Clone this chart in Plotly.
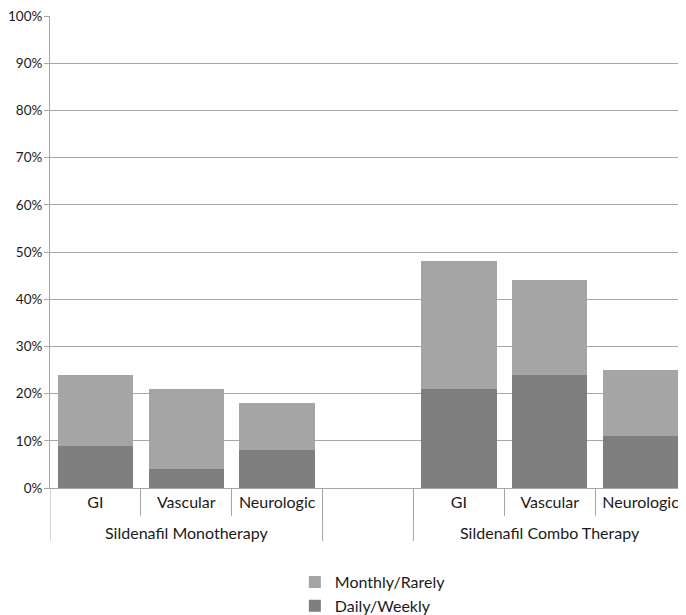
import plotly.graph_objects as go

# group / category labels
groups = ["Sildenafil Monotherapy", "Sildenafil Combo Therapy"]
group_centres = [1, 5]
categories = ["GI", "Vascular", "Neurologic", "", "GI", "Vascular", "Neurologic"]

# percent of patients
daily_weekly = [9, 4, 8, None, 21, 24, 11]
totals = [24, 21, 18, None, 48, 44, 25]
monthly_rarely = [t - d if t is not None else None for t, d in zip(totals, daily_weekly)]

y_ticks = list(range(0, 101, 10))
y_labels = [f"{v}%" for v in y_ticks]

font = "Lato, 'Open Sans', sans-serif"
line_grey = "#a6a6a6"
text_col = "#1a1a1a"
pos = list(range(len(categories)))

fig = go.Figure()
fig.add_trace(go.Bar(x=pos, y=daily_weekly, name="Daily/Weekly",
                     marker=dict(color="#7f7f7f", line=dict(width=0))))
fig.add_trace(go.Bar(x=pos, y=monthly_rarely, name="Monthly/Rarely",
                     marker=dict(color="#a5a5a5", line=dict(width=0))))

# group labels under the category labels
for g, c in zip(groups, group_centres):
    fig.add_annotation(x=c, y=-0.094, xref="x", yref="paper", text=g,
                       showarrow=False, yanchor="middle",
                       font=dict(size=16, family=font, color=text_col))

# long dividers between the groups
for b in [-0.5, 2.5, 3.5, 6.5]:
    fig.add_shape(type="line", x0=b, x1=b, y0=0, y1=-0.112, xref="x", yref="paper",
                  line=dict(color=line_grey, width=1))

# the page body adds 8px round the figure; figure runs to the window's right
# and bottom edge, with the legend kept inside so it doesn't push the margins
fig.update_layout(
    width=678, height=615,
    barmode="stack", bargap=0.17,
    plot_bgcolor="white", paper_bgcolor="white",
    margin=dict(l=42, r=0, t=8, b=135),
    font=dict(family=font, size=16, color=text_col),
    showlegend=True,
    legend=dict(orientation="v", traceorder="reversed", x=0.385, xanchor="left",
                y=-0.164, yanchor="top", font=dict(size=16), itemwidth=30,
                tracegroupgap=0),
)
fig.update_xaxes(
    range=[-0.5, 6.5], tickvals=pos, ticktext=categories,
    showline=True, linecolor=line_grey, linewidth=1,
    ticks="", tickfont=dict(size=16), ticklabeloverflow="allow",
    minor=dict(tickmode="array", tickvals=[p - 0.5 for p in pos[1:]],
               ticks="outside", ticklen=27, tickcolor=line_grey, tickwidth=1),
    showgrid=False, zeroline=False, automargin=False,
)
fig.update_yaxes(
    range=[0, 100], tickvals=y_ticks, ticktext=y_labels, tickfont=dict(size=13.5),
    showgrid=True, gridcolor=line_grey, gridwidth=1,
    showline=True, linecolor=line_grey, linewidth=1,
    ticks="outside", ticklen=5, tickcolor=line_grey, ticklabelstandoff=-1,
    ticklabeloverflow="allow", zeroline=False, automargin=False,
)

fig.write_html("out.html")
